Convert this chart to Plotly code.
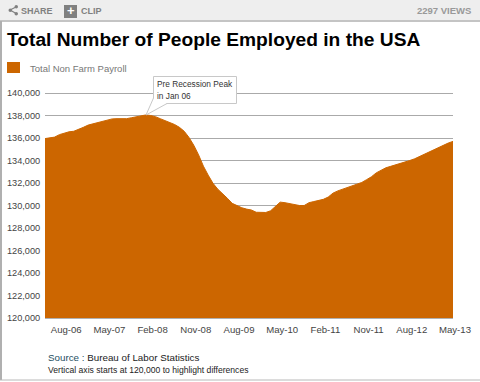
import plotly.graph_objects as go
import pandas as pd

W, H = 480, 382
months = [d.strftime("%b-%y") for d in pd.date_range("2006-04-01", "2013-05-01", freq="MS")]
payroll = [
    135950, 136000, 136080, 136300, 136450, 136550, 136600, 136750, 136950,
    137150, 137250, 137400, 137500, 137600, 137700, 137720, 137700, 137720, 137800, 137900, 137950,
    138050, 138000, 137900, 137720, 137550, 137370, 137200, 136950, 136600, 136050, 135350, 134500,
    133500, 132700, 131970, 131450, 131080, 130640, 130190, 129980, 129800, 129680, 129600, 129400, 129380,
    129380, 129530, 129900, 130300, 130250, 130150, 130080, 130000, 130000, 130250, 130350, 130480, 130550,
    130750, 131100, 131300, 131450, 131600, 131700, 131850, 132050, 132300, 132550, 132900, 133150,
    133350, 133480, 133600, 133700, 133850, 134000, 134150, 134350, 134550, 134800, 134950, 135200,
    135400, 135550, 135700,
]
x_ticks = ["Aug-06", "May-07", "Feb-08", "Nov-08", "Aug-09", "May-10", "Feb-11", "Nov-11", "Aug-12", "May-13"]
y_ticks = list(range(120000, 140001, 2000))
series_name = "Total Non Farm Payroll"
title = "Total Number of People Employed in the USA"


def px(v):
    return v / W


def py(v):
    return 1 - v / H


def rect(x0, y0, x1, y1, fill=None, line=None, lw=1):
    return dict(type="rect", xref="paper", yref="paper", x0=px(x0), x1=px(x1), y0=py(y0), y1=py(y1),
                fillcolor=fill or "rgba(0,0,0,0)", line=dict(color=line or "rgba(0,0,0,0)", width=lw if line else 0),
                layer="above")


def seg(x0, y0, x1, y1, color, lw=1):
    return dict(type="line", xref="paper", yref="paper", x0=px(x0), x1=px(x1), y0=py(y0), y1=py(y1),
                line=dict(color=color, width=lw), layer="above")


def label(x, y, text, size, color, bold=False, anchor="left"):
    return dict(xref="paper", yref="paper", x=px(x), y=py(y), text=f"<b>{text}</b>" if bold else text,
                showarrow=False, xanchor=anchor, yanchor="middle", align="left",
                font=dict(family="Liberation Sans, Arial", size=size, color=color))


fig = go.Figure(go.Scatter(
    x=months, y=payroll, name=series_name, mode="lines", fill="tozeroy",
    fillcolor="#cc6600", line=dict(color="#cc6600", width=1), showlegend=False,
    hoverinfo="x+y",
))

shapes = [
    rect(0, 0, 480, 20, fill="#eeeeee"),
    seg(0, 21, 480, 21, "#c4c4c4", 2),
    seg(1, 21, 1, 380, "#b0b0b0", 2),
    seg(0, 380, 480, 380, "#b8b8b8", 1),
    rect(7, 62, 20, 73, fill="#cc6600"),
    rect(64, 5, 77, 18, fill="#808080"),
    seg(10, 10, 17, 6.5, "#808080", 1.2),
    seg(10, 10, 17, 14, "#808080", 1.2),
    dict(type="circle", xref="paper", yref="paper", x0=px(8.5), x1=px(12), y0=py(8.5), y1=py(12), fillcolor="#808080", line_width=0),
    dict(type="circle", xref="paper", yref="paper", x0=px(14.5), x1=px(18), y0=py(5), y1=py(8.5), fillcolor="#808080", line_width=0),
    dict(type="circle", xref="paper", yref="paper", x0=px(14.5), x1=px(18), y0=py(12), y1=py(15.5), fillcolor="#808080", line_width=0),
    rect(153.5, 76.5, 236.5, 103.5, fill="#ffffff", line="#c8c8c8"),
    dict(type="path", xref="paper", yref="paper", layer="above",
         path=f"M {px(153.5)} {py(98)} L {px(146)} {py(115)} L {px(167)} {py(103.5)} Z",
         fillcolor="#ffffff", line=dict(width=0)),
    seg(153.5, 98, 146, 115, "#c8c8c8"),
    seg(146, 115, 167, 103.5, "#c8c8c8"),
]

annotations = [
    label(19, 10.5, "SHARE", 9, "#808080", bold=True),
    label(70.5, 11, "+", 13, "#ffffff", bold=True, anchor="center"),
    label(79, 10.5, "CLIP", 9, "#808080", bold=True),
    label(473, 11, "2297 VIEWS", 9.5, "#999999", bold=True, anchor="right"),
    label(5, 39, title, 19.2, "#000000", bold=True),
    label(28, 68.5, series_name, 9.5, "#777777"),
    label(155, 84, "Pre Recession Peak", 8.3, "#333333"),
    label(155, 96, "in Jan 06", 8.3, "#333333"),
    label(45.5, 357, '<span style="color:#1f4f5f">Source : </span>Bureau of Labor Statistics', 9.8, "#222222"),
    label(45.5, 370, "Vertical axis starts at 120,000 to highlight differences", 8.6, "#222222"),
]

fig.update_layout(
    width=W, height=H, margin=dict(l=0, r=0, t=0, b=0, autoexpand=False), autosize=False,
    paper_bgcolor="#ffffff", plot_bgcolor="#ffffff",
    shapes=shapes, annotations=annotations,
    font=dict(family="Liberation Sans, Arial", size=9.6, color="#444444"),
    xaxis=dict(domain=[px(45), px(453)], type="category", categoryorder="array", categoryarray=months,
               range=[0, len(months) - 1], tickmode="array", tickvals=x_ticks, ticktext=x_ticks,
               tickfont=dict(size=9.6), ticklabelshift=2,
               showgrid=False, ticks="outside", ticklen=2, tickcolor="rgba(0,0,0,0)", tickangle=0,
               showline=True, linecolor="#b0b0b0", linewidth=1, zeroline=False, automargin=False),
    yaxis=dict(domain=[py(318), py(92)], range=[120000, 140090], tickmode="array", tickvals=y_ticks,
               tickformat=",d", tickfont=dict(size=9.2), gridcolor="#aaaaaa", gridwidth=1,
               showline=False, zeroline=False,
               ticks="outside", ticklen=2, tickcolor="rgba(0,0,0,0)", layer="below traces", automargin=False),
)

fig.write_html("out.html", config={"displayModeBar": False},
               post_script="document.body.style.margin='0';")
